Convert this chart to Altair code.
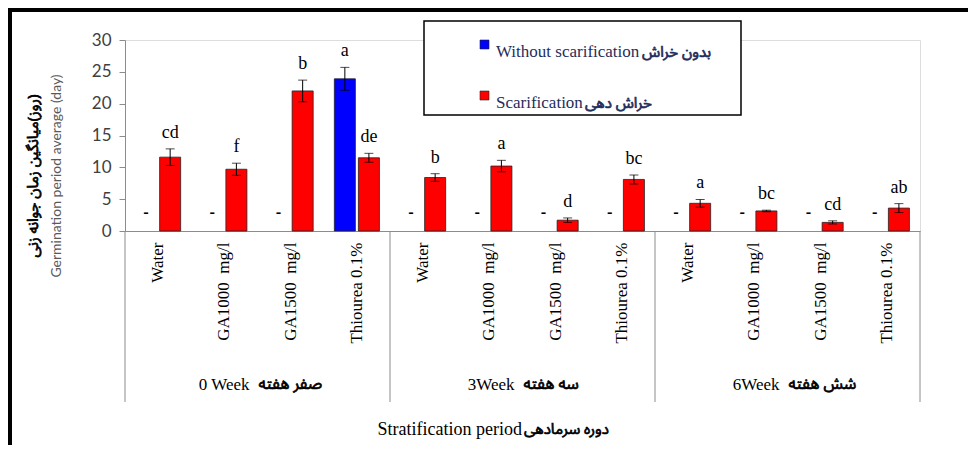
import altair as alt
import pandas as pd

# ---------------- data ----------------
periods = ["0 Week", "3Week", "6Week"]
periods_fa = ["صفر هفته", "سه هفته", "شش هفته"]
treatments = ["Water",
              "GA1000\u00a0\u00a0mg/l\u00a0\u00a0\u00a0\u00a0",
              "GA1500\u00a0\u00a0mg/l\u00a0\u00a0",
              "Thiourea 0.1%"]
series = ["Without scarification", "Scarification"]
series_fa = ["بدون خراش", "خراش دهی"]
series_colors = ["#0000FF", "#FF0000"]

scar_mean = [11.6, 9.7, 22.0, 11.5, 8.4, 10.2, 1.7, 8.1, 4.35, 3.15, 1.35, 3.6]
scar_err = [1.3, 0.95, 1.7, 0.7, 0.6, 0.9, 0.35, 0.7, 0.6, 0.12, 0.25, 0.7]
scar_letters = ["cd", "f", "b", "de", "b", "a", "d", "bc", "a", "bc", "cd", "ab"]

noscar_mean = [None, None, None, 23.9, None, None, None, None, None, None, None, None]
noscar_err = [None, None, None, 1.8, None, None, None, None, None, None, None, None]
noscar_letters = ["", "", "", "a", "", "", "", "", "", "", "", ""]

y_ticks = [0, 5, 10, 15, 20, 25, 30]
y_title_fa = "\u200f(روز)میانگین زمان جوانه زنی"
y_title_en = "Germination period average (day)"
x_title_en = "Stratification period"
x_title_fa = "دوره سرمادهی"

# ---------------- tables ----------------
keys = [f"{p}|{t}" for p in periods for t in treatments]
rows = []
for i, k in enumerate(keys):
    rows.append(dict(key=k, series=series[0], mean=noscar_mean[i], err=noscar_err[i],
                     letter=noscar_letters[i]))
    rows.append(dict(key=k, series=series[1], mean=scar_mean[i], err=scar_err[i],
                     letter=scar_letters[i]))
df = pd.DataFrame(rows)
df["low"] = df["mean"] - df["err"]
df["high"] = df["mean"] + df["err"]
bars_df = df.dropna(subset=["mean"])
dash_df = df[df["mean"].isna()].assign(dash="-")
letters_df = bars_df[bars_df["letter"] != ""]

groups_df = pd.DataFrame({"key": [keys[4 * i + 1] for i in range(3)],
                          "en": periods, "fa": periods_fa})
sep_left_df = pd.DataFrame({"key": [keys[0], keys[4], keys[8]]})
sep_right_df = pd.DataFrame({"key": [keys[11]]})
one = pd.DataFrame({"a": [0]})
legend_df = pd.DataFrame({"series": series, "fa": series_fa, "color": series_colors})

SERIF = "Liberation Serif"
FA = "Noto Sans Arabic, Noto Naskh Arabic, DejaVu Sans"
NAVY = "#1F2D5C"
GRAY = "#8C8C8C"

xscale = alt.Scale(domain=keys, paddingInner=0, paddingOuter=0)
xaxis = alt.Axis(title=None, ticks=False, labelAngle=270, labelFont=SERIF,
                 labelFontSize=17, labelColor="black", labelPadding=11,
                 labelExpr="split(datum.label, '|')[1]", labelOverlap=False,
                 domainColor=GRAY, labelLimit=300)
X = alt.X("key:N", scale=xscale, axis=xaxis)
XO = alt.XOffset("series:N", scale=alt.Scale(domain=series, paddingInner=0.125,
                                               paddingOuter=0.44))
yscale = alt.Scale(domain=[0, 30], nice=False)
yaxis = alt.Axis(title=None, values=y_ticks, grid=False, domainColor=GRAY,
                 tickColor=GRAY, tickSize=6, labelFont="Lato", labelFontSize=17,
                 labelColor="#404040", labelPadding=8, labelOverlap=False)

bars = alt.Chart(bars_df).mark_bar(stroke="#222222", strokeWidth=0.8).encode(
    x=X, xOffset=XO,
    y=alt.Y("mean:Q", scale=yscale, axis=yaxis),
    color=alt.Color("series:N", scale=alt.Scale(domain=series, range=series_colors),
                    legend=None),
)
err_rule = alt.Chart(bars_df).mark_rule(color="black", strokeWidth=1).encode(
    x=X, xOffset=XO, y=alt.Y("low:Q", scale=yscale, axis=yaxis), y2="high:Q")
cap_lo = alt.Chart(bars_df).mark_tick(color="black", thickness=1, size=9).encode(
    x=X, xOffset=XO, y=alt.Y("low:Q", scale=yscale, axis=yaxis))
cap_hi = alt.Chart(bars_df).mark_tick(color="black", thickness=1, size=9).encode(
    x=X, xOffset=XO, y=alt.Y("high:Q", scale=yscale, axis=yaxis))
letters = alt.Chart(letters_df).mark_text(font=SERIF, fontSize=18, color="black",
                                          baseline="alphabetic", dy=-11).encode(
    x=X, xOffset=XO, y=alt.Y("high:Q", scale=yscale, axis=yaxis), text="letter:N")
dashes = alt.Chart(dash_df).mark_text(font="Lato", fontSize=16, fontWeight="bold",
                                      color="black", baseline="alphabetic", dy=-13).encode(
    x=X, xOffset=XO, y=alt.datum(0, scale=yscale, axis=yaxis), text="dash:N")

seps_l = alt.Chart(sep_left_df).mark_rule(color=GRAY, strokeWidth=1).encode(
    x=alt.X("key:N", scale=xscale, axis=xaxis, bandPosition=0),
    y=alt.value(191), y2=alt.value(362))
seps_r = alt.Chart(sep_right_df).mark_rule(color=GRAY, strokeWidth=1).encode(
    x=alt.X("key:N", scale=xscale, axis=xaxis, bandPosition=1),
    y=alt.value(191), y2=alt.value(362))
grp_en = alt.Chart(groups_df).mark_text(font=SERIF, fontSize=17, color="black",
                                        align="right", baseline="middle", dx=-8).encode(
    x=alt.X("key:N", scale=xscale, axis=xaxis, bandPosition=1),
    y=alt.value(345), text="en:N")
grp_fa = alt.Chart(groups_df).mark_text(font=FA, fontSize=16, color="black",
                                        stroke="black", strokeWidth=0.7,
                                        align="left", baseline="middle", dx=1).encode(
    x=alt.X("key:N", scale=xscale, axis=xaxis, bandPosition=1),
    y=alt.value(344), text="fa:N")

# axis titles
ytit_fa = alt.Chart(one).mark_text(font=FA, fontSize=15, color="black",
                                   stroke="black", strokeWidth=0.7,
                                   angle=270, baseline="middle").encode(
    x=alt.value(-92), y=alt.value(136), text=alt.value(y_title_fa))
ytit_en = alt.Chart(one).mark_text(font="Lato", fontSize=14, color="#595959",
                                   angle=270, baseline="middle").encode(
    x=alt.value(-68), y=alt.value(136), text=alt.value(y_title_en))
xtit_en = alt.Chart(one).mark_text(font=SERIF, fontSize=18, color="black",
                                   align="right", baseline="middle").encode(
    x=alt.value(397), y=alt.value(390), text=alt.value(x_title_en))
xtit_fa = alt.Chart(one).mark_text(font=FA, fontSize=15, color="black",
                                   stroke="black", strokeWidth=0.7,
                                   align="left", baseline="middle").encode(
    x=alt.value(399), y=alt.value(389), text=alt.value(x_title_fa))

# legend (drawn box)
leg_box = alt.Chart(one).mark_rect(fill="white", stroke="black", strokeWidth=1.5).encode(
    x=alt.value(299), x2=alt.value(616), y=alt.value(-19), y2=alt.value(75))
leg_layers = [leg_box]
row_y = [17, 68]
en_end = [515, 458]
for k in range(2):
    d = legend_df.iloc[[k]]
    leg_layers.append(alt.Chart(d).mark_rect(stroke="#222222", strokeWidth=0.6).encode(
        x=alt.value(355), x2=alt.value(364), y=alt.value(row_y[k] - 17),
        y2=alt.value(row_y[k] - 8), color=alt.Color("color:N", scale=None)))
    leg_layers.append(alt.Chart(d).mark_text(font=SERIF, fontSize=17, color=NAVY,
                                             align="left", baseline="alphabetic").encode(
        x=alt.value(371), y=alt.value(row_y[k]), text="series:N"))
    leg_layers.append(alt.Chart(d).mark_text(font=FA, fontSize=15, color=NAVY,
                                             stroke=NAVY, strokeWidth=0.7, align="left",
                                             baseline="alphabetic").encode(
        x=alt.value(en_end[k] + 2), y=alt.value(row_y[k]), text="fa:N"))

# outer frame (top and left thick lines)
frame_top = alt.Chart(one).mark_rule(color="black", strokeWidth=4).encode(
    x=alt.value(-117), x2=alt.value(843), y=alt.value(-30))
frame_left = alt.Chart(one).mark_rule(color="black", strokeWidth=4).encode(
    x=alt.value(-115), y=alt.value(-32), y2=alt.value(405))

chart = alt.layer(
    seps_l, seps_r, bars, err_rule, cap_lo, cap_hi, letters, dashes,
    grp_en, grp_fa, ytit_fa, ytit_en, xtit_en, xtit_fa, *leg_layers,
    frame_top, frame_left,
).properties(
    width=795, height=191,
    autosize="none",
    padding={"left": 117, "top": 32, "right": 48, "bottom": 214},
).configure_view(stroke=None).configure(background="white")

chart.save("out.html", embed_options={"renderer": "svg", "actions": False})
